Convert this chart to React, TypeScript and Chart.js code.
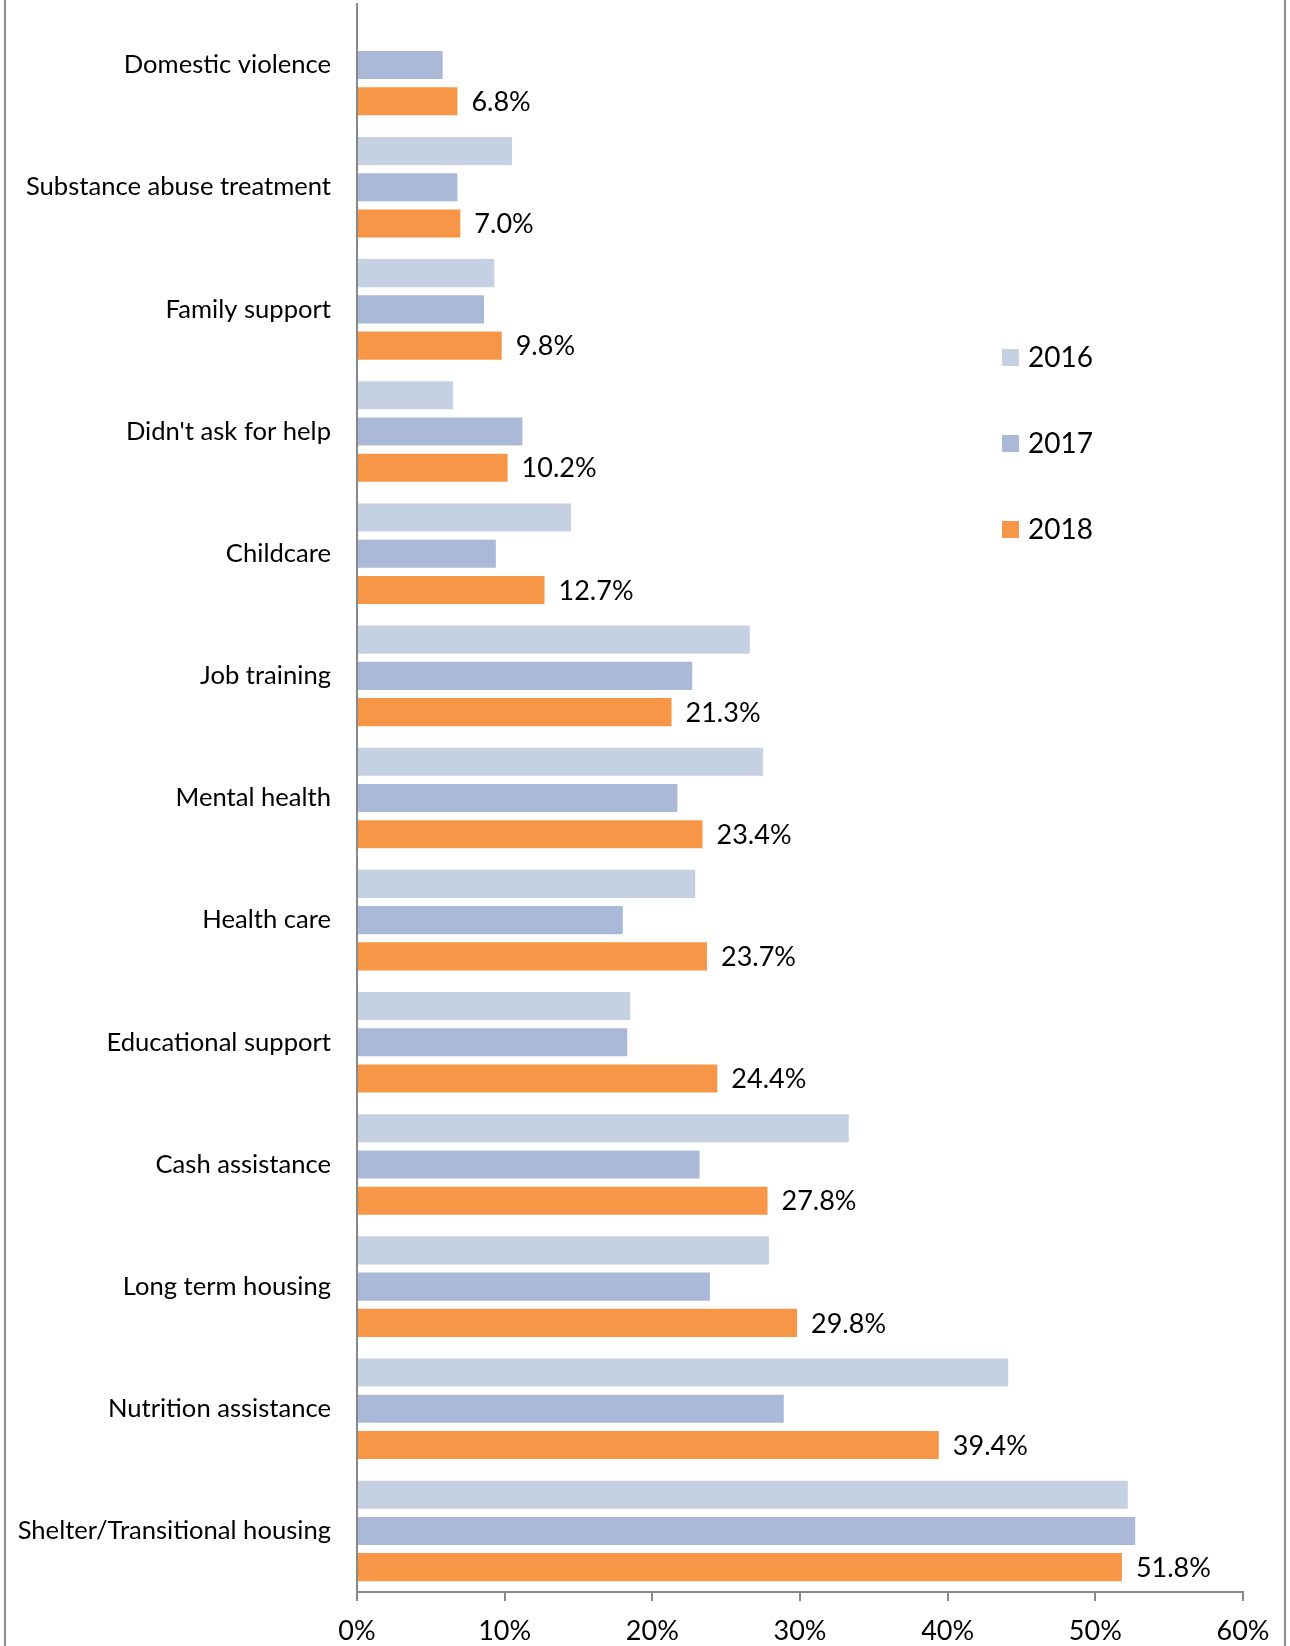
import React, { useEffect, useRef } from "react";
import { Chart, registerables } from "chart.js";

Chart.register(...registerables);

const categories = [
  "Domestic violence",
  "Substance abuse treatment",
  "Family support",
  "Didn't ask for help",
  "Childcare",
  "Job training",
  "Mental health",
  "Health care",
  "Educational support",
  "Cash assistance",
  "Long term housing",
  "Nutrition assistance",
  "Shelter/Transitional housing",
];

const values2016: (number | null)[] = [null, 10.5, 9.3, 6.5, 14.5, 26.6, 27.5, 22.9, 18.5, 33.3, 27.9, 44.1, 52.2];
const values2017: number[] = [5.8, 6.8, 8.6, 11.2, 9.4, 22.7, 21.7, 18.0, 18.3, 23.2, 23.9, 28.9, 52.7];
const values2018: number[] = [6.8, 7.0, 9.8, 10.2, 12.7, 21.3, 23.4, 23.7, 24.4, 27.8, 29.8, 39.4, 51.8];

const seriesNames = ["2016", "2017", "2018"];
const xTicks = [0, 10, 20, 30, 40, 50, 60];

const COLORS = ["#C5D0E3", "#AAB9D7", "#F79646"];
const FONT = "Lato, 'Open Sans', sans-serif";
const AXIS_COLOR = "#888888";

const dataLabelPlugin = {
  id: "dataLabels2018",
  afterDatasetsDraw(chart: any) {
    const ctx = chart.ctx;
    const meta = chart.getDatasetMeta(2);
    ctx.save();
    ctx.font = `27px ${FONT}`;
    ctx.fillStyle = "#000";
    ctx.textAlign = "left";
    ctx.textBaseline = "middle";
    meta.data.forEach((bar: any, i: number) => {
      const v = values2018[i];
      ctx.fillText(`${v.toFixed(1)}%`, bar.x + 14, bar.y + 1);
    });
    ctx.restore();
  },
};

const legendPlugin = {
  id: "customLegend",
  afterDraw(chart: any) {
    const ctx = chart.ctx;
    const ys = [357, 443, 529];
    ctx.save();
    ctx.font = `28px ${FONT}`;
    ctx.textBaseline = "middle";
    ctx.textAlign = "left";
    seriesNames.forEach((name, i) => {
      ctx.fillStyle = COLORS[i];
      ctx.fillRect(1002, ys[i] - 8, 17, 17);
      ctx.fillStyle = "#000";
      ctx.fillText(name, 1028, ys[i] + 1);
    });
    ctx.restore();
  },
};

export default function App() {
  const canvasRef = useRef<HTMLCanvasElement | null>(null);

  useEffect(() => {
    document.body.style.margin = "0";
    const canvas = canvasRef.current;
    if (!canvas) return;
    const chart = new Chart(canvas, {
      type: "bar",
      data: {
        labels: categories,
        datasets: [
          { label: seriesNames[0], data: values2016 as any, backgroundColor: COLORS[0] },
          { label: seriesNames[1], data: values2017, backgroundColor: COLORS[1] },
          { label: seriesNames[2], data: values2018, backgroundColor: COLORS[2] },
        ],
      },
      options: {
        indexAxis: "y",
        animation: false,
        responsive: false,
        maintainAspectRatio: false,
        datasets: {
          bar: {
            categoryPercentage: 0.89,
            barPercentage: 0.775,
          },
        },
        layout: { padding: { top: 4, right: 47, bottom: 0, left: 0 } },
        plugins: {
          legend: { display: false },
          tooltip: { enabled: false },
          title: { display: false },
        },
        scales: {
          x: {
            min: 0,
            max: 60,
            afterBuildTicks(scale: any) {
              scale.ticks = xTicks.map((v) => ({ value: v }));
            },
            afterFit(scale: any) {
              scale.height = 54;
              scale.paddingLeft = 0;
              scale.paddingRight = 0;
            },
            ticks: {
              callback: (v: any) => `${v}%`,
              font: { family: FONT, size: 27 },
              color: "#000",
              padding: 14,
              maxRotation: 0,
            },
            grid: {
              display: true,
              drawOnChartArea: false,
              drawTicks: true,
              tickLength: 9,
              color: AXIS_COLOR,
              lineWidth: 2,
            },
            border: { display: true, color: AXIS_COLOR, width: 2 },
          },
          y: {
            afterFit(scale: any) {
              scale.width = 357;
              scale.paddingTop = 0;
              scale.paddingBottom = 0;
            },
            ticks: {
              font: { family: FONT, size: 25.6 },
              color: "#000",
              padding: 26,
            },
            grid: { display: false, drawTicks: false },
            border: { display: true, color: AXIS_COLOR, width: 2 },
          },
        },
      },
      plugins: [dataLabelPlugin, legendPlugin],
    });
    return () => chart.destroy();
  }, []);

  return (
    <div style={{ position: "relative", width: 1290, height: 1646, background: "#fff", overflow: "hidden" }}>
      <canvas ref={canvasRef} width={1290} height={1646} style={{ display: "block", width: 1290, height: 1646 }} />
      <div style={{ position: "absolute", left: 4, top: 0, width: 2, height: 1646, background: "#8c8c8c" }} />
      <div style={{ position: "absolute", left: 1284, top: 0, width: 2, height: 1646, background: "#8c8c8c" }} />
    </div>
  );
}
